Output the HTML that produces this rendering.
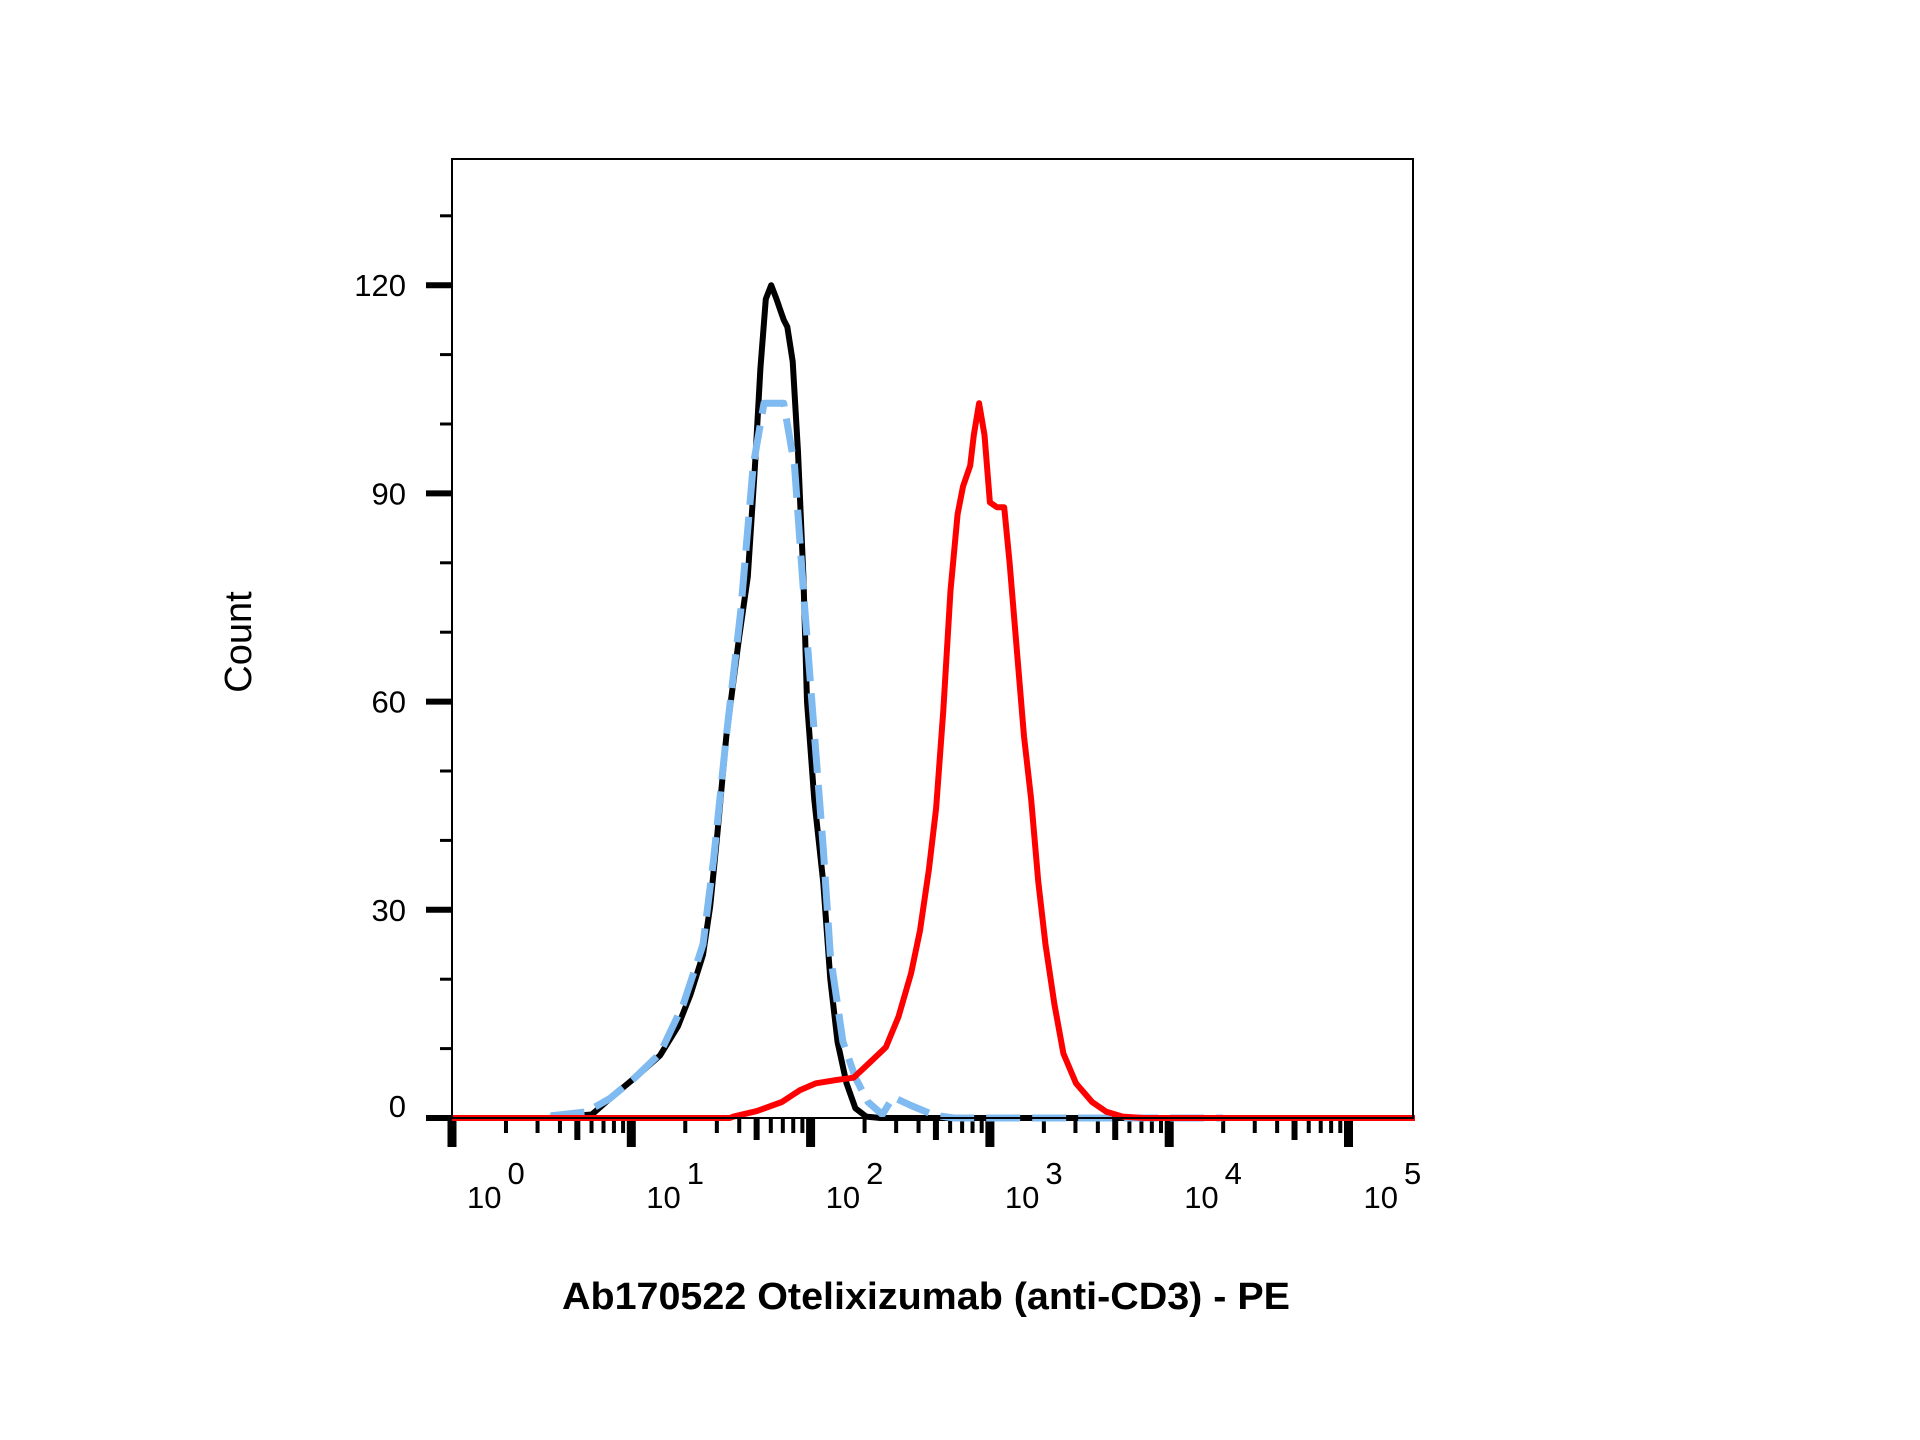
<!DOCTYPE html>
<html><head><meta charset="utf-8"><style>
html,body{margin:0;padding:0;background:#fff;}
svg{display:block;font-family:"Liberation Sans",Arial,sans-serif;}
</style></head><body>
<svg id="chart" width="1920" height="1440" viewBox="0 0 1920 1440" xmlns="http://www.w3.org/2000/svg">
<rect x="0" y="0" width="1920" height="1440" fill="#fff"/>
<g id="ticks"></g>
<g id="series"></g>
<rect x="452" y="159" width="961" height="959" fill="none" stroke="#000" stroke-width="2"/>
<text transform="translate(251,642) rotate(-90)" text-anchor="middle" font-size="38" fill="#000">Count</text>
<text x="562" y="1309" textLength="728" lengthAdjust="spacingAndGlyphs" font-size="38" font-weight="bold" fill="#000">Ab170522 Otelixizumab (anti-CD3) - PE</text>
</svg>
<script>
const yTicks = [0, 30, 60, 90, 120];
const yMinor = [10, 20, 40, 50, 70, 80, 100, 110, 130];
const xDecades = [0, 1, 2, 3, 4, 5];
const blackLog = [0,0.54,0.78,0.88,1.02,1.16,1.26,1.33,1.40,1.44,1.48,1.53,1.60,1.65,1.69,1.72,1.75,1.78,1.81,1.85,1.87,1.90,1.93,1.96,1.98,2.02,2.07,2.11,2.15,2.20,2.25,2.31,2.39,5.37];
const blackCount = [0,0,0.5,2.8,5.8,9,13.2,17.8,23.5,30.5,41,55,69,78,94,108,118,120,118,115,114,109,96,78,60,46,34,20,11,5,1.4,0.2,0,0];
const blueLog = [0.55,0.75,0.88,1.02,1.16,1.29,1.40,1.46,1.53,1.61,1.68,1.74,1.85,1.91,1.96,2.01,2.07,2.11,2.18,2.25,2.32,2.40,2.46,2.56,2.69,2.80,4.30];
const blueCount = [0.3,0.9,2.8,5.8,9.3,16.4,25,37.5,55,73,94,103,103,94,76,59,39,23.5,11,5.8,2.3,0.5,3,1.8,0.4,0,0];
const redLog = [0,1.55,1.57,1.70,1.84,1.94,2.03,2.15,2.24,2.33,2.42,2.49,2.56,2.61,2.66,2.70,2.74,2.78,2.82,2.85,2.89,2.91,2.94,2.97,3.00,3.04,3.08,3.11,3.15,3.19,3.23,3.27,3.31,3.36,3.41,3.48,3.57,3.65,3.74,3.86,5.37];
const redCount = [0,0,0.2,1,2.3,4,5,5.5,5.8,8,10.2,14.6,20.8,27,35.8,44.6,58.7,76,87,91,94,98.4,103,98.4,88.7,88,88,80,67.5,55,46,34,25,16.4,9.3,5,2.3,0.9,0.2,0,0];

const NS = 'http://www.w3.org/2000/svg';
const X0 = 452, DEC = 179.3, Y0 = 1118, PER = 6.94;
function xs(l){ return X0 + DEC * l; }
function ys(v){ return Y0 - PER * v; }
function mk(tag, attrs, parent){
  const e = document.createElementNS(NS, tag);
  for (const k in attrs) e.setAttribute(k, attrs[k]);
  parent.appendChild(e); return e;
}
const T = document.getElementById('ticks');
yTicks.forEach(v => {
  const t = mk('line', {x1:426, x2:452, y1:ys(v), y2:ys(v), stroke:'#000', 'stroke-width':6}, T);
  
  
  const lb = mk('text', {x:406, y:ys(v) + (v === 0 ? -1 : 11), 'text-anchor':'end', 'font-size':31, fill:'#000'}, T);
  
  
  lb.textContent = String(v);
});
yMinor.forEach(v => {
  const t = mk('line', {x1:440, x2:452, y1:ys(v), y2:ys(v), stroke:'#000', 'stroke-width':3}, T);
  
  
});
xDecades.forEach(d => {
  const t = mk('line', {x1:xs(d), x2:xs(d), y1:1118, y2:1147, stroke:'#000', 'stroke-width':9}, T);
  
  
  const lb = mk('text', {x:xs(d) + 15, y:1208, 'font-size':31, fill:'#000'}, T);
  
  
  lb.textContent = '10';
  const sp = mk('tspan', {dx:6, dy:-24, 'font-size':31}, lb);
  sp.textContent = String(d);
  if (d < 5) {
    for (let m = 2; m <= 9; m++) {
      const lx = xs(d + Math.log10(m));
      const t2 = mk('line', {x1:lx, x2:lx, y1:1118, y2:(m === 5 ? 1140 : 1133), stroke:'#000', 'stroke-width':(m === 5 ? 6 : 4)}, T);
      
      
    }
  }
});
const S = document.getElementById('series');
function pathOf(lx, cy){ return lx.map((l,i) => (i ? 'L' : 'M') + xs(l).toFixed(1) + ',' + ys(cy[i]).toFixed(1)).join(' '); }
const pb = mk('path', {d:pathOf(blackLog, blackCount), fill:'none', stroke:'#000', 'stroke-width':6, 'stroke-linejoin':'round'}, S);


const pl = mk('path', {d:pathOf(blueLog, blueCount), fill:'none', stroke:'#7fbaf0', 'stroke-width':7, 'stroke-dasharray':'34 12', 'stroke-linejoin':'round'}, S);


const pr = mk('path', {d:pathOf(redLog, redCount), fill:'none', stroke:'#ff0000', 'stroke-width':6, 'stroke-linejoin':'round'}, S);


</script>
</body></html>
